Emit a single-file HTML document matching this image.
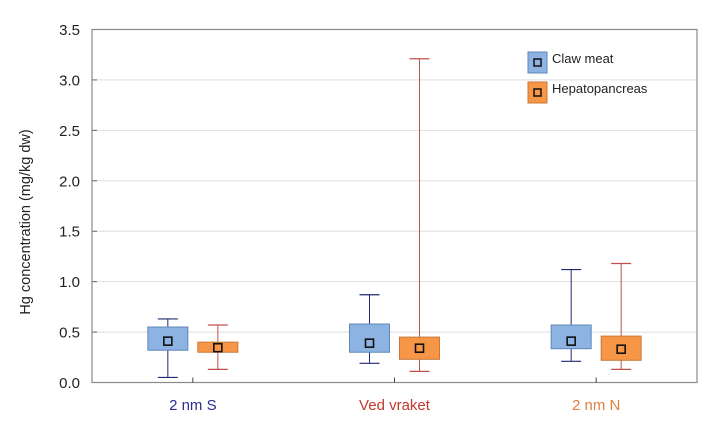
<!DOCTYPE html>
<html><head><meta charset="utf-8"><style>
body{margin:0;background:#fff;}
svg{display:block;font-family:"Liberation Sans",sans-serif;}
</style></head><body>
<svg id="chart" width="714" height="446" xmlns="http://www.w3.org/2000/svg"></svg>
<script>
const categories=["2 nm S","Ved vraket","2 nm N"];
const catColors=["#2b2b95","#c0392b","#e08040"];
const clawMin=[0.05,0.19,0.21];
const clawQ1=[0.32,0.30,0.335];
const clawQ3=[0.55,0.58,0.57];
const clawMax=[0.63,0.87,1.12];
const clawMean=[0.41,0.39,0.41];
const hepMin=[0.13,0.11,0.13];
const hepQ1=[0.30,0.23,0.22];
const hepQ3=[0.40,0.45,0.46];
const hepMax=[0.57,3.21,1.18];
const hepMean=[0.345,0.34,0.33];
const yTicks=[0,0.5,1,1.5,2,2.5,3,3.5];
const yTickLabels=["0.0","0.5","1.0","1.5","2.0","2.5","3.0","3.5"];

const NS="http://www.w3.org/2000/svg";
const svg=document.getElementById('chart');
const L=92,R=697,T=29.5,B=382.5,yMax=3.5;
const y=v=>B-(B-T)*v/yMax;
const band=(R-L)/categories.length;
const xc=i=>L+band*(i+0.5);
function mk(tag,attrs,parent){const e=document.createElementNS(NS,tag);for(const k in attrs)e.setAttribute(k,attrs[k]);(parent||svg).appendChild(e);return e;}

// grid
yTicks.forEach((t,i)=>{
  if(t>0&&t<yMax){const g=mk('line',{x1:L,x2:R,y1:y(t),y2:y(t),stroke:'#dedede','stroke-width':1});
  
  }
  const tk=mk('line',{x1:L,x2:L+5,y1:y(t),y2:y(t),stroke:'#666'});
  
  
  const tx=mk('text',{x:80,y:y(t)+5.5,'text-anchor':'end','font-size':15,fill:'#222'});
  tx.textContent=yTickLabels[i];
  
  
});
const frame=mk('rect',{x:L,y:T,width:R-L,height:B-T,fill:'none',stroke:'#8a8a8a','stroke-width':1.2});



const yt=mk('text',{x:0,y:0,transform:'translate(30,222) rotate(-90)','text-anchor':'middle','font-size':14.5,fill:'#222'});
yt.textContent='Hg concentration (mg/kg dw)';



categories.forEach((c,i)=>{
  const tk=mk('line',{x1:xc(i),x2:xc(i),y1:B,y2:B-5,stroke:'#444'});
  
  
  const t=mk('text',{x:xc(i),y:410,'text-anchor':'middle','font-size':15,fill:catColors[i]});
  t.textContent=c;
  
  
});

function box(cx,mn,q1,q3,mx,mean,fill,stroke,wc,name){
  const g=mk('g',{});
  
  
  mk('line',{x1:cx,x2:cx,y1:y(mx),y2:y(mn),stroke:wc,'stroke-width':1},g);
  mk('line',{x1:cx-10,x2:cx+10,y1:y(mx),y2:y(mx),stroke:wc,'stroke-width':1.2},g);
  mk('line',{x1:cx-10,x2:cx+10,y1:y(mn),y2:y(mn),stroke:wc,'stroke-width':1.2},g);
  mk('rect',{x:cx-20,y:y(q3),width:40,height:y(q1)-y(q3),fill:fill,stroke:stroke,'stroke-width':1},g);
  mk('rect',{x:cx-4,y:y(mean)-4,width:8,height:8,fill:fill,stroke:'#111','stroke-width':1.6},g);
}
categories.forEach((c,i)=>{
  box(xc(i)-25,clawMin[i],clawQ1[i],clawQ3[i],clawMax[i],clawMean[i],'#8db3e2','#5f86b8','#1f2a70','claw-box-'+i);
  box(xc(i)+25,hepMin[i],hepQ1[i],hepQ3[i],hepMax[i],hepMean[i],'#f79646','#c87838','#c0504d','hep-box-'+i);
});

// legend
[["Claw meat",'#8db3e2','#5f86b8',52],["Hepatopancreas",'#f79646','#c87838',82]].forEach((d,i)=>{
  const g=mk('g',{});
  
  
  mk('rect',{x:528,y:d[3],width:19,height:21,fill:d[1],stroke:d[2]},g);
  mk('rect',{x:534,y:d[3]+7,width:7,height:7,fill:d[1],stroke:'#111','stroke-width':1.5},g);
  const t=mk('text',{x:552,y:d[3]+11,'font-size':13,fill:'#222'},g);
  t.textContent=d[0];
});
</script>
</body></html>
